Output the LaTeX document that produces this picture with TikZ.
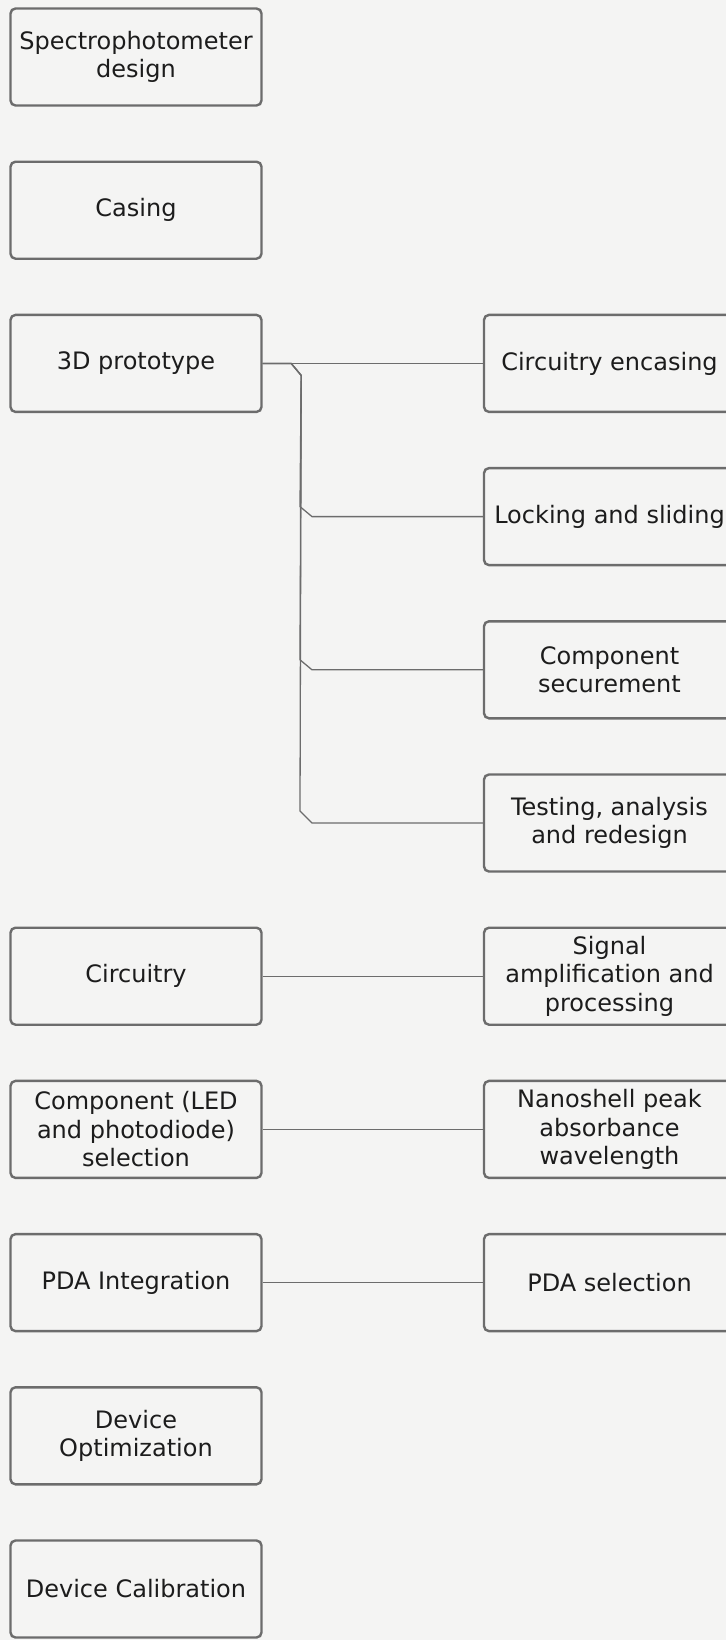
\documentclass[tikz,border=0pt]{standalone}
\usepackage{fontspec}
\setmainfont{DejaVu Sans}
\usetikzlibrary{calc}
\definecolor{paper}{RGB}{244, 244, 243}
\definecolor{boxgray}{RGB}{108, 108, 108}
\definecolor{inkgray}{RGB}{28, 28, 28}

\tikzset{
    task/.style={draw=boxgray, line width=1.2pt, rounded corners=2.5pt,
        minimum width=125.5pt, minimum height=48.5pt, inner sep=1pt,
        align=center, text=inkgray, font=\fontsize{12}{14.2}\selectfont},
    link/.style={draw=boxgray, line width=0.65pt}
}

\begin{document}
\begin{tikzpicture}[x=0.5pt, y=-0.5pt]
    \useasboundingbox (0,0) rectangle (726,1640);
    \fill[paper] (0,0) rectangle (726,1640);
    \clip (0,0) rectangle (726,1640);

    % left column: main stages
    \node[task] (spec)    at (136, 57)     {Spectrophotometer\\design};
    \node[task] (casing)  at (136, 210.2)  {Casing};
    \node[task] (proto)   at (136, 363.4)  {3D prototype};
    \node[task] (circ)    at (136, 976.2)  {Circuitry};
    \node[task] (compsel) at (136, 1129.4) {Component (LED\\and photodiode)\\selection};
    \node[task] (pdaint)  at (136, 1282.6) {PDA Integration};
    \node[task] (optim)   at (136, 1435.8) {Device\\Optimization};
    \node[task] (calib)   at (136, 1589)   {Device Calibration};

    % right column: sub-tasks (run off the page edge)
    \node[task] (encase)  at (609.5, 363.4)  {Circuitry encasing};
    \node[task] (lock)    at (609.5, 516.6)  {Locking and sliding};
    \node[task] (secure)  at (609.5, 669.8)  {Component\\securement};
    \node[task] (retest)  at (609.5, 823)    {Testing, analysis\\and redesign};
    \node[task] (signal)  at (609.5, 976.2)  {Signal\\amplification and\\processing};
    \node[task] (nano)    at (609.5, 1129.4) {Nanoshell peak\\absorbance\\wavelength};
    \node[task] (pdasel)  at (609.5, 1282.6) {PDA selection};

    % tree from the 3D prototype
    \coordinate (trunk) at (300, 0);
    \draw[link] (proto) -- (encase);
    \draw[link] (proto.east) -- ++(28.5,0) -- ++(10,12)
        -- ($(trunk |- lock.west)+(0,-10)$) -- ++(12,10) -- (lock.west);
    \draw[link] (proto.east) -- ++(28.5,0) -- ++(10,12)
        -- ($(trunk |- secure.west)+(0,-10)$) -- ++(12,10) -- (secure.west);
    \draw[link] (proto.east) -- ++(28.5,0) -- ++(10,12)
        -- ($(trunk |- retest.west)+(0,-12)$) -- ++(12,12) -- (retest.west);

    % straight links
    \draw[link] (circ) -- (signal);
    \draw[link] (compsel) -- (nano);
    \draw[link] (pdaint) -- (pdasel);
\end{tikzpicture}
\end{document}
